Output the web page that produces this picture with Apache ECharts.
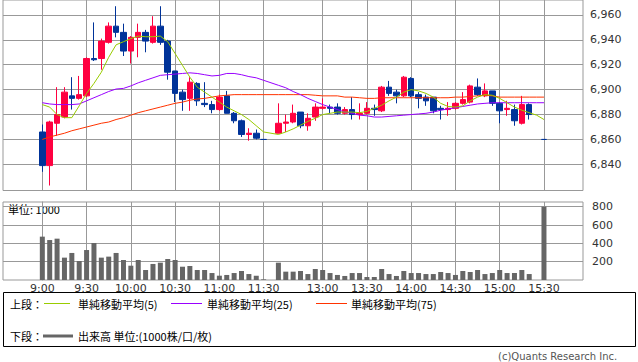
<!DOCTYPE html>
<html><head><meta charset="utf-8">
<script src="https://cdn.jsdelivr.net/npm/echarts@6/dist/echarts.min.js"></script>
<style>html,body{margin:0;padding:0;background:#fff}#c{width:638px;height:362px}</style>
</head><body><div id="c"></div>
<script>
// x-axis: 5-minute slots (0 = 9:00 ... 30 = 11:30, 31 = lunch gap, 32 = 12:30 ... 68 = 15:30)
const tickSlots  = [0, 6, 12, 18, 24, 30, 38, 44, 50, 56, 62, 68];
const tickLabels = ['9:00','9:30','10:00','10:30','11:00','11:30','13:00','13:30','14:00','14:30','15:00','15:30'];
const priceTicks = [6840, 6860, 6880, 6900, 6920, 6940, 6960];
const volTicks   = [200, 400, 600, 800];

const open = [6866,6839,6873,6878,6895,6893,6895,6925,6925,6938,6951,6946,6931,6942,6946,6938,6951,6939,6915,6898,
  6893,6905,6889,6888,6884,6895,6881,6875,6864,6865,6860,null,6865,6873,6874,6882,6871,6878,6885,6886,
  6886,6881,6884,6880,6881,6885,6883,6902,6898,6895,6909,6896,6894,6894,6885,6884,6885,6889,6890,6902,
  6895,6899,6889,6884,6884,6873,6888,null,6860];
const close = [6839,6874,6880,6898,6893,6896,6925,6924,6939,6951,6946,6931,6942,6946,6939,6951,6938,6914,6897,6892,
  6906,6891,6888,6884,6894,6881,6875,6864,6865,6861,6860,null,6873,6874,6881,6871,6877,6886,6886,6885,
  6881,6884,6880,6881,6885,6884,6902,6897,6895,6910,6895,6893,6891,6883,6884,6885,6889,6892,6903,6896,
  6899,6889,6883,6885,6875,6888,6880,null,6860];
const low = [6834,6823,6863,6877,6884,6892,6894,6923,6916,6937,6942,6927,6921,6926,6930,6937,6936,6908,6890,6883,
  6883,6887,6886,6881,6883,6881,6873,6862,6859,6860,6860,null,6865,6866,6873,6869,6867,6875,6884,6881,
  6880,6880,6876,6876,6880,6879,6882,6895,6889,6894,6894,6885,6887,6881,6876,6879,6884,6888,6889,6895,
  6894,6887,6873,6879,6871,6872,6876,null,6860];
const high = [6872,6875,6902,6902,6910,6911,6926,6954,6941,6954,6967,6953,6943,6953,6948,6959,6967,6940,6915,6900,
  6910,6906,6906,6891,6896,6899,6882,6876,6869,6868,6860,null,6889,6880,6888,6882,6881,6889,6893,6888,
  6889,6886,6894,6889,6890,6888,6903,6907,6900,6911,6910,6898,6896,6894,6887,6890,6890,6898,6904,6909,
  6905,6899,6890,6891,6888,6895,6889,null,6860];
const volume = [473,436,451,244,295,207,327,404,244,255,295,218,156,218,109,175,189,229,218,145,
  153,109,109,76,47,55,76,98,65,47,7,null,189,91,91,98,65,120,109,76,
  55,44,76,76,33,33,120,65,44,98,76,76,65,65,87,76,55,98,87,109,
  65,76,109,76,76,109,65,null,800];
const ma5 = [6888,6886,6880,6877.5,6877.5,6887,6897,6905,6914,6926,6936,6938.5,6941,6943,6942.5,6942.5,6943,6938.5,6929,6919.5,
  6910,6902,6898,6894,6890,6886,6883,6880,6876,6871,6866,null,6864,6866,6868.5,6871.5,6874.5,6877,6880,6881,
  6882,6882,6882,6881.5,6882.5,6885,6887.5,6891,6894,6898,6900,6899,6897,6894,6889,6886.5,6886,6887,6891,6894,
  6896,6895.5,6893,6889.5,6886,6883.5,6881.5,6879.5,6876];
const ma25 = [6889.5,6888.5,6888,6888,6888,6888.5,6891,6893.5,6896,6898.5,6900.5,6901,6903,6905.5,6907.5,6909.5,6911.5,6912,6912.5,6913,
  6913.5,6913,6912,6911,6911.5,6913,6913,6912,6910.5,6909.5,6907.5,null,6903.5,6901.5,6898.5,6896,6893,6890.5,6888,6886,
  6884,6882,6881,6879.5,6879,6878,6878,6878.5,6879,6879.5,6880,6880.5,6881,6882,6883.5,6884.5,6885.5,6886.5,6887.5,6888.5,
  6889,6889.5,6889.5,6889.5,6889.5,6889.5,6889.5,6889.5,6889.5];
const ma75 = [6860,6862,6863.5,6865,6867,6868.5,6870,6871.5,6873,6874,6876,6877.5,6879.5,6881.5,6883,6884.5,6886,6887.5,6889,6890,
  6891.5,6892.5,6893,6894,6895,6895.5,6896,6896,6896,6896,6896,null,6896,6896,6896,6896,6896,6895.5,6895,6895,
  6895,6894,6894,6893.5,6893,6893,6893.5,6893.5,6893.5,6893.5,6893.5,6893.5,6893.5,6893.5,6893.5,6893.5,6894,6894,6894.5,6895,
  6895.5,6895,6894,6894,6894,6894,6894,6894,6894];

const candleData = [], volData = [], ma5Data = [], ma25Data = [], ma75Data = [];
for (let i = 0; i < open.length; i++) {
  if (open[i] != null) candleData.push([i, open[i], close[i], low[i], high[i]]);
  if (volume[i] != null) volData.push([i, volume[i]]);
  if (ma5[i] != null) ma5Data.push([i, ma5[i]]);
  if (ma25[i] != null) ma25Data.push([i, ma25[i]]);
  if (ma75[i] != null) ma75Data.push([i, ma75[i]]);
}

const FONT = 'DejaVu Sans';
const CJK = '"Noto Sans CJK JP"';
const GRID = '#999999';
const UP = '#ff0040', DOWN = '#003399';
const X_MIN = -5.33, X_MAX = 73.29;

const chart = echarts.init(document.getElementById('c'), null, {renderer: 'svg', width: 638, height: 362});
chart.setOption({
  animation: false,
  backgroundColor: '#ffffff',
  grid: [
    {left: 3, top: 0, width: 580, height: 190.5, show: true, borderColor: GRID, borderWidth: 1},
    {left: 3, top: 202, width: 580, height: 78, show: true, borderColor: GRID, borderWidth: 1}
  ],
  xAxis: [
    {gridIndex: 0, type: 'value', min: X_MIN, max: X_MAX,
     axisLine: {show: false}, axisTick: {show: false, customValues: tickSlots},
     axisLabel: {show: false, customValues: tickSlots},
     splitLine: {show: true, lineStyle: {color: GRID, width: 1}}},
    {gridIndex: 1, type: 'value', min: X_MIN, max: X_MAX,
     axisLine: {show: false}, axisTick: {show: false, customValues: tickSlots},
     axisLabel: {show: true, customValues: tickSlots, margin: 3,
       formatter: v => tickLabels[tickSlots.indexOf(Math.round(v))] || '',
       fontFamily: FONT, fontSize: 11, color: '#333'},
     splitLine: {show: true, lineStyle: {color: GRID, width: 1}}}
  ],
  yAxis: [
    {gridIndex: 0, type: 'value', position: 'right', min: 6819, max: 6972, scale: true,
     axisLine: {show: true, lineStyle: {color: GRID}},
     axisTick: {show: true, length: 5, customValues: priceTicks, lineStyle: {color: GRID}},
     axisLabel: {show: true, customValues: priceTicks, margin: 7,
       formatter: v => Math.round(v).toLocaleString('en-US'),
       fontFamily: FONT, fontSize: 11, color: '#333'},
     splitLine: {show: true, lineStyle: {color: GRID, width: 1}}},
    {gridIndex: 1, type: 'value', position: 'right', min: 0, max: 851,
     axisLine: {show: true, lineStyle: {color: GRID}},
     axisTick: {show: true, length: 5, customValues: volTicks, lineStyle: {color: GRID}},
     axisLabel: {show: true, customValues: volTicks, margin: 9,
       fontFamily: FONT, fontSize: 11, color: '#333'},
     splitLine: {show: true, lineStyle: {color: GRID, width: 1}}}
  ],
  series: [
    {type: 'candlestick', xAxisIndex: 0, yAxisIndex: 0, barWidth: 6,
     dimensions: ['x', 'open', 'close', 'low', 'high'],
     encode: {x: 0, y: [1, 2, 3, 4]},
     data: candleData,
     itemStyle: {color: UP, color0: DOWN, borderColor: UP, borderColor0: DOWN, borderColorDoji: DOWN, borderWidth: 1}},
    {type: 'line', xAxisIndex: 0, yAxisIndex: 0, data: ma75Data, symbol: 'none',
     lineStyle: {color: '#ff3300', width: 1}},
    {type: 'line', xAxisIndex: 0, yAxisIndex: 0, data: ma25Data, symbol: 'none',
     lineStyle: {color: '#9900ff', width: 1}},
    {type: 'line', xAxisIndex: 0, yAxisIndex: 0, data: ma5Data, symbol: 'none',
     lineStyle: {color: '#99cc00', width: 1}},
    {type: 'bar', xAxisIndex: 1, yAxisIndex: 1, data: volData, barWidth: 5,
     itemStyle: {color: '#666666'}}
  ],
  graphic: [
    {type: 'text', x: 8, y: 209, style: {text: '単位: 1000', font: '11px ' + CJK, fill: '#000', verticalAlign: 'middle'}},
    {type: 'rect', shape: {x: 3.5, y: 292.5, width: 632, height: 54}, style: {fill: 'none', stroke: '#000', lineWidth: 1}},
    {type: 'text', x: 10, y: 303.5, style: {text: '上段：', font: '11px ' + CJK, fill: '#000', verticalAlign: 'middle'}},
    {type: 'line', shape: {x1: 44, y1: 303.5, x2: 70, y2: 303.5}, style: {stroke: '#99cc00', lineWidth: 1}},
    {type: 'text', x: 78, y: 303.5, style: {text: '単純移動平均(5)', font: '11px ' + CJK, fill: '#000', verticalAlign: 'middle'}},
    {type: 'line', shape: {x1: 171, y1: 303.5, x2: 202, y2: 303.5}, style: {stroke: '#9900ff', lineWidth: 1}},
    {type: 'text', x: 207, y: 303.5, style: {text: '単純移動平均(25)', font: '11px ' + CJK, fill: '#000', verticalAlign: 'middle'}},
    {type: 'line', shape: {x1: 316, y1: 303.5, x2: 347, y2: 303.5}, style: {stroke: '#ff3300', lineWidth: 1}},
    {type: 'text', x: 351, y: 303.5, style: {text: '単純移動平均(75)', font: '11px ' + CJK, fill: '#000', verticalAlign: 'middle'}},
    {type: 'text', x: 10, y: 336, style: {text: '下段：', font: '11px ' + CJK, fill: '#000', verticalAlign: 'middle'}},
    {type: 'line', shape: {x1: 43, y1: 336, x2: 73, y2: 336}, style: {stroke: '#666666', lineWidth: 3}},
    {type: 'text', x: 78, y: 336, style: {text: '出来高 単位:(1000株/口/枚)', font: '11px ' + CJK, fill: '#000', verticalAlign: 'middle'}},
    {type: 'text', x: 498, y: 356.5, style: {text: '(c)Quants Research Inc.', font: '10px "DejaVu Sans"', fill: '#555', verticalAlign: 'middle'}}
  ]
});
</script>
</body></html>
